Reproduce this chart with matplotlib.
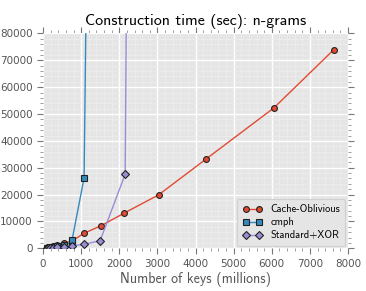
import matplotlib
matplotlib.use("Agg")
import matplotlib.pyplot as plt
from matplotlib.ticker import MultipleLocator

plt.style.use("ggplot")
plt.rcParams['font.family'] = ['cmss10', 'DejaVu Sans']
plt.rcParams['axes.unicode_minus'] = False

title = "Construction time (sec): n-grams"
xlabel = "Number of keys (millions)"

co_x = [95, 135, 190, 270, 380, 540, 762, 1077, 1524, 2137, 3030, 4283, 6051, 7628]
co_y = [250, 400, 600, 850, 1200, 1800, 2700, 5600, 8430, 13170, 19890, 33320, 52240, 74000]

cmph_x = [95, 135, 190, 270, 380, 540, 762, 762, 1077, 1524]
cmph_y = [150, 250, 350, 500, 800, 1400, 1900, 3100, 26200, 567000]

xor_x = [95, 135, 190, 270, 380, 540, 762, 1086, 1498, 2155, 3030]
xor_y = [100, 150, 200, 300, 450, 650, 970, 1490, 2840, 27600, 1760000]

labels = ["Cache-Oblivious", "cmph", "Standard+XOR"]
colors = ["#E24A33", "#348ABD", "#988ED5"]
markers = ["o", "s", "D"]

fig = plt.figure(figsize=(3.66, 2.91), dpi=100)
ax = fig.add_axes([0.1175, 0.1467, 0.8335, 0.7383])
ax.set_facecolor("#E5E5E5")

series = [(co_x, co_y), (cmph_x, cmph_y), (xor_x, xor_y)]
for (xs, ys), lab, c, m in zip(series, labels, colors, markers):
    ax.plot(xs, ys, color=c, marker=m, markersize=4.2 if m != "D" else 3.8,
            markeredgecolor="#222222", markeredgewidth=0.8, linewidth=1.0,
            label=lab)

ax.set_xlim(0, 8000)
ax.set_ylim(0, 80000)
ax.xaxis.set_major_locator(MultipleLocator(1000))
ax.xaxis.set_minor_locator(MultipleLocator(200))
ax.yaxis.set_major_locator(MultipleLocator(10000))
ax.yaxis.set_minor_locator(MultipleLocator(2000))

ax.grid(which="major", color="white", linewidth=1.0)
ax.grid(which="minor", color="#EEEEEE", linewidth=0.5)
ax.set_axisbelow(True)
for s in ax.spines.values():
    s.set_visible(False)

ax.tick_params(which="both", direction="out", top=True, right=True,
               bottom=True, left=True, color="#777777", labelsize=7.5,
               labelcolor="#555555")
ax.tick_params(which="major", length=4, width=0.8)
ax.tick_params(which="minor", length=2, width=0.5)
for lbl in ax.get_xticklabels() + ax.get_yticklabels():
    lbl.set_fontfamily("DejaVu Sans")

ax.set_title(title, fontsize=11.5, color="black", pad=6)
ax.set_xlabel(xlabel, fontsize=10, color="#555555", labelpad=2)

leg = ax.legend(loc="lower right", fontsize=7.5, frameon=True,
                facecolor="#E5E5E5", edgecolor="#D0D0D0", framealpha=1,
                handlelength=1.9, borderpad=0.5, labelspacing=0.3,
                numpoints=2, borderaxespad=0.25)
leg.get_frame().set_linewidth(0.8)

fig.savefig("out.png", dpi=100)
